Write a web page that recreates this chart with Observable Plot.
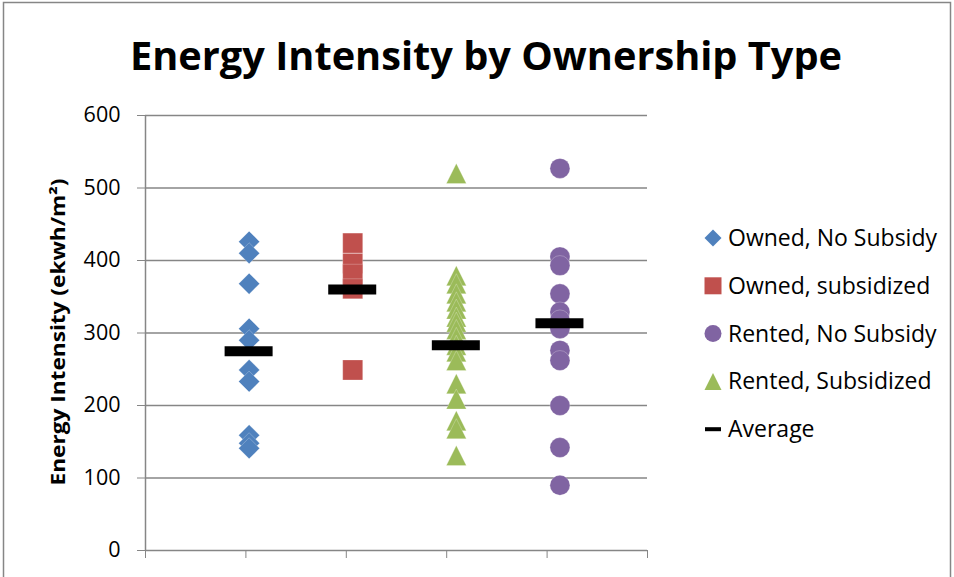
<!DOCTYPE html>
<html>
<head>
<meta charset="utf-8">
<script src="https://cdn.jsdelivr.net/npm/d3@7"></script>
<script src="https://cdn.jsdelivr.net/npm/@observablehq/plot@0.6"></script>
<style>
  html, body { margin: 0; padding: 0; background: #fff; }
  #chart { width: 954px; height: 577px; }
</style>
</head>
<body>
<div id="chart"></div>
<script>
// Series, in legend order
const seriesNames = ["Owned, No Subsidy", "Owned, subsidized", "Rented, No Subsidy", "Rented, Subsidized"];
// Horizontal position of each series' column
const seriesX = [1, 2, 4, 3];
const seriesColors = ["#4F81BD", "#C0504D", "#8064A2", "#9BBB59"];

// Energy intensity of each building (ekwh/m²)
const ownedNoSubsidy = [426, 410, 368, 306, 290, 249, 233, 159, 148, 141];
const ownedSubsidized = [424, 396, 381, 361, 249];
const rentedNoSubsidy = [527, 405, 393, 354, 329, 318, 306, 276, 262, 200, 142, 90];
const rentedSubsidized = [520, 379, 368, 354, 343, 333, 322, 315, 305, 294, 283, 274, 262, 230, 209, 179, 168, 131];

// Group averages, legend order
const averages = [275, 360, 313.5, 283];

const yTicks = [0, 100, 200, 300, 400, 500, 600];
const xMax = 4.845;
const xTicks = d3.range(6).map(i => i * xMax / 5);

const titleText = "Energy Intensity by Ownership Type";
const yLabelText = "Energy Intensity (ekwh/m\u00B2)";
const averageLabel = "Average";

// Marker shapes, half-extent = r
const symDiamond = { draw(c, s) { const r = Math.sqrt(s / Math.PI); c.moveTo(0, -r); c.lineTo(r, 0); c.lineTo(0, r); c.lineTo(-r, 0); c.closePath(); } };
const symSquare = { draw(c, s) { const r = Math.sqrt(s / Math.PI); c.moveTo(-r, -r); c.lineTo(r, -r); c.lineTo(r, r); c.lineTo(-r, r); c.closePath(); } };
const symCircle = { draw(c, s) { const r = Math.sqrt(s / Math.PI); c.moveTo(r, 0); c.arc(0, 0, r, 0, 2 * Math.PI); } };
const symTriangle = { draw(c, s) { const r = Math.sqrt(s / Math.PI); c.moveTo(0, -r); c.lineTo(r, r); c.lineTo(-r, r); c.closePath(); } };
const symbols = [symDiamond, symSquare, symCircle, symTriangle];
const markerR = [10.5, 10, 10, 10];

const seriesValues = [ownedNoSubsidy, ownedSubsidized, rentedNoSubsidy, rentedSubsidized];
const pointSets = seriesValues.map((vals, k) => vals.map(v => ({ x: seriesX[k], y: v })));
const averageRows = averages.map((v, k) => ({ x: seriesX[k], y: v }));

const gray = "#868686";
const font = "'Open Sans', 'DejaVu Sans', sans-serif";

const plot = Plot.plot({
  width: 954,
  height: 577,
  marginLeft: 145,
  marginRight: 307,
  marginTop: 115,
  marginBottom: 27,
  style: { fontFamily: font, background: "#fff", overflow: "visible" },
  x: { domain: [0, xMax] },
  y: { domain: [0, 600] },
  marks: [
    Plot.ruleY(yTicks.filter(v => v > 0), { stroke: gray, strokeWidth: 1.5 }),
    Plot.ruleY([0], { stroke: gray, strokeWidth: 1.5 }),
    Plot.ruleX([0], { stroke: gray, strokeWidth: 1.5 }),
    Plot.axisY({ ticks: yTicks, tickSize: 8, tickPadding: 17, stroke: gray, fill: "#000", fontSize: 21.5, label: null, tickFormat: d3.format("d") }),
    Plot.axisX({ ticks: xTicks, tickSize: 8, stroke: gray, tickFormat: () => "", label: null }),
    ...pointSets.map((pts, k) => Plot.dot(pts, {
      x: "x", y: "y", r: markerR[k], symbol: symbols[k],
      fill: seriesColors[k], stroke: "#fff", strokeOpacity: 0.25, strokeWidth: 1
    })),
    Plot.ruleY(averageRows, { x1: "x", x2: "x", y: "y", insetLeft: -24, insetRight: -24, stroke: "#000", strokeWidth: 10 })
  ]
});

document.getElementById("chart").appendChild(plot);

const svg = d3.select(plot);

// Chart border
svg.insert("rect", ":first-child")
  .attr("x", 3.5).attr("y", 2.5).attr("width", 947).attr("height", 600)
  .attr("fill", "#fff").attr("stroke", gray).attr("stroke-width", 1.5);

// Title
svg.append("text")
  .attr("x", 486).attr("y", 70)
  .attr("text-anchor", "middle")
  .attr("font-family", font).attr("font-weight", "bold").attr("font-size", 40)
  .attr("textLength", 712).attr("lengthAdjust", "spacingAndGlyphs")
  .attr("fill", "#000")
  .text(titleText);

// Y-axis label
svg.append("text")
  .attr("transform", "translate(65,332) rotate(-90)")
  .attr("text-anchor", "middle")
  .attr("font-family", font).attr("font-weight", "bold").attr("font-size", 19)
  .attr("textLength", 307).attr("lengthAdjust", "spacingAndGlyphs")
  .attr("fill", "#000")
  .text(yLabelText);

// Legend
const legend = svg.append("g")
  .attr("font-family", font).attr("font-size", 23).attr("text-anchor", "start");
const legendRow = i => 238 + i * 47.8;
seriesNames.forEach((name, k) => {
  const g = legend.append("g").attr("transform", `translate(713,${legendRow(k)})`);
  g.append("path")
    .attr("d", d3.symbol(symbols[k], Math.PI * 8.5 * 8.5)())
    .attr("fill", seriesColors[k]);
  g.append("text").attr("x", 15).attr("dy", "0.35em").attr("fill", "#000").text(name);
});
{
  const g = legend.append("g").attr("transform", `translate(713,${legendRow(4)})`);
  g.append("rect").attr("x", -8).attr("y", -2).attr("width", 16).attr("height", 4).attr("fill", "#000");
  g.append("text").attr("x", 15).attr("dy", "0.35em").attr("fill", "#000").text(averageLabel);
}
</script>
</body>
</html>
